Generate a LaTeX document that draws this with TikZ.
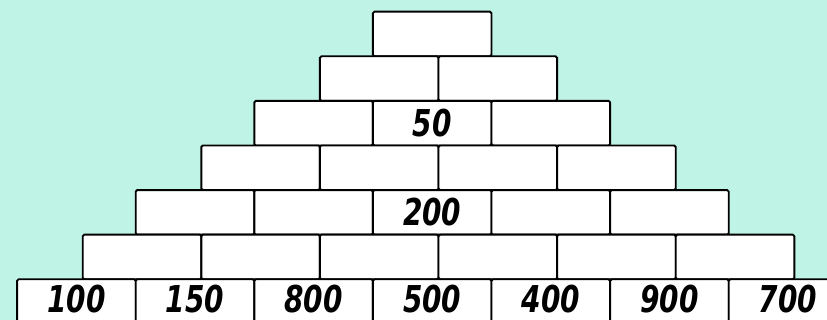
\documentclass[tikz,border=0pt]{standalone}
\usepackage{fontspec}
\usepackage{tikz}
\newfontfamily\numfont[FakeStretch=0.84]{DejaVu Sans Condensed}
\definecolor{mintbg}{RGB}{190,243,230}

\begin{document}
\begin{tikzpicture}[
  x=1pt, y=-1pt,
  brick/.style={rectangle, rounded corners=1.5pt, draw=black, line width=1.9pt, fill=white,
                minimum width=118.6pt, minimum height=44.6pt, inner sep=0pt},
  num/.style={inner sep=0pt, font=\numfont\bfseries\itshape\fontsize{37}{40}\selectfont}
]
\fill[mintbg] (0,0) rectangle (827,320);
\useasboundingbox (0,0) rectangle (827,320);
\clip (0,0) rectangle (827,320);

% upper rows, empty bricks
\foreach \r in {0,...,5}{
  \foreach \i in {0,...,\r}{
    \pgfmathsetmacro\cx{(mod(\r,2)==0 ? 432.2 : 438.5) + (\i-\r/2)*118.6}
    \pgfmathsetmacro\cy{11.7 + \r*44.6 + 22.3}
    \node[brick] (b-\r-\i) at (\cx,\cy) {};
  }
}
% bottom row with the given numbers
\foreach \n [count=\i from 0] in {100,150,800,500,400,900,700}{
  \pgfmathsetmacro\cx{432.2 + (\i-3)*118.6}
  \node[brick] (b-6-\i) at (\cx,301.6) {};
  \node[num] (n-\i) at (\cx,299.5) {\n};
}
\node[num] (n-200) at (b-4-2) {200};
\node[num] (n-50) at (b-2-1) {50};
\end{tikzpicture}
\end{document}
